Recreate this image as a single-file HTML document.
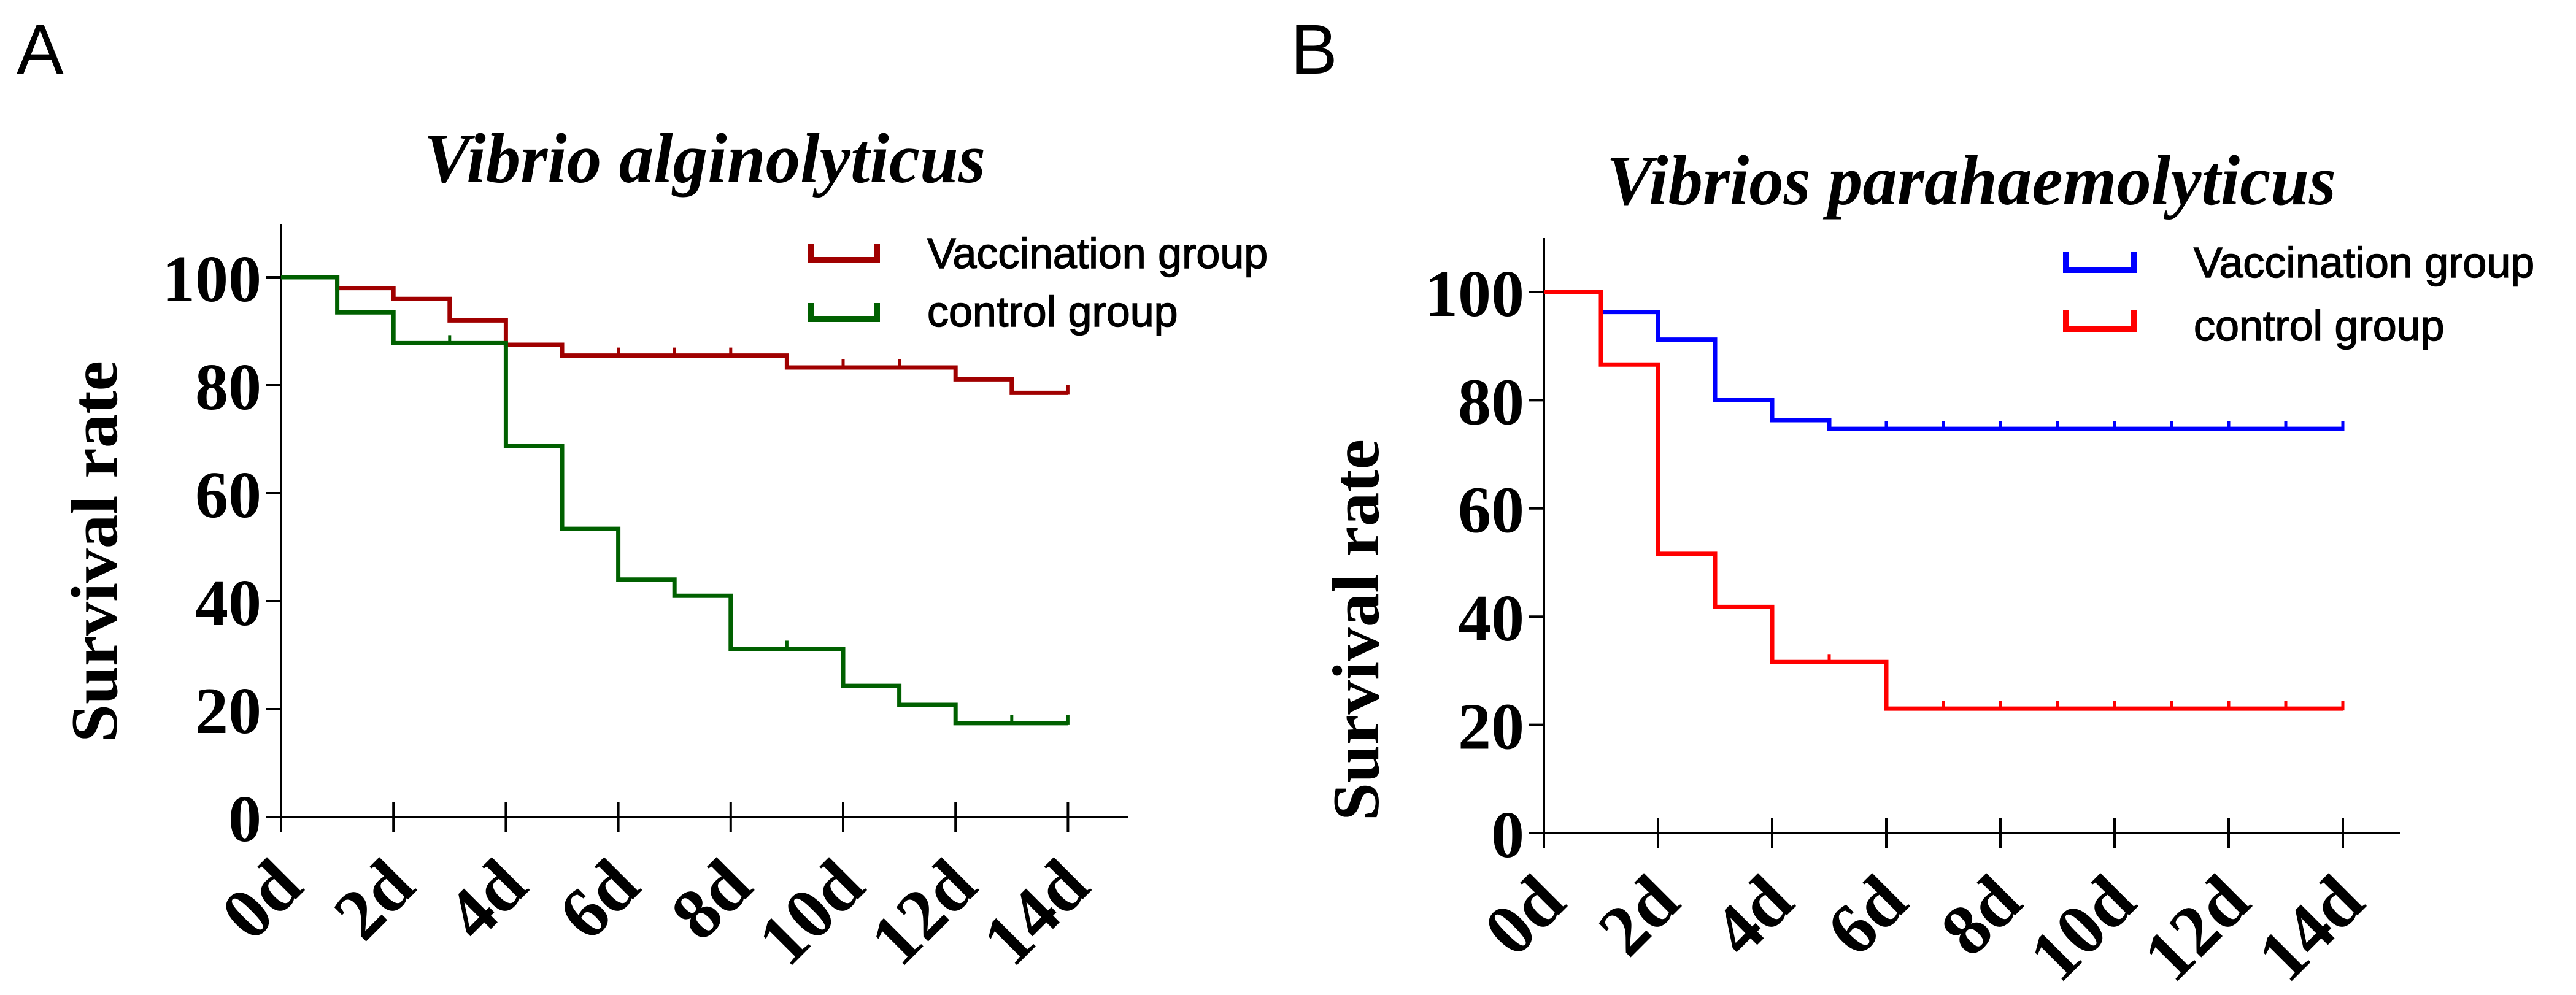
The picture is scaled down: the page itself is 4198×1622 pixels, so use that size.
<!DOCTYPE html>
<html><head><meta charset="utf-8"><style>
html,body{margin:0;padding:0;background:#fff;}
svg{display:block;}
.tk{font-family:"Liberation Serif",serif;font-weight:bold;font-size:108px;}
.xl{font-family:"Liberation Serif",serif;font-weight:bold;font-size:118px;}
.tt{font-family:"Liberation Serif",serif;font-weight:bold;font-style:italic;font-size:115px;}
.lg{font-family:"Liberation Sans",sans-serif;font-size:70px;stroke:#000;stroke-width:1.5px;}
</style></head><body>
<svg id="fig" width="4198" height="1622" viewBox="0 0 4198 1622" xmlns="http://www.w3.org/2000/svg">
<text x="27" y="120" font-family="Liberation Sans, sans-serif" font-size="115">A</text>
<text x="2103" y="120" font-family="Liberation Sans, sans-serif" font-size="115">B</text>
<text class="tt" x="691" y="297" textLength="915" lengthAdjust="spacingAndGlyphs">Vibrio alginolyticus</text>
<text class="tt" x="2618" y="333" textLength="1189" lengthAdjust="spacingAndGlyphs">Vibrios parahaemolyticus</text>
<g id="ga"></g>
<g id="gb"></g>
</svg>
<script>
const xTickDays = [0,2,4,6,8,10,12,14];
const xTickLabels = ["0d","2d","4d","6d","8d","10d","12d","14d"];
const yTicks = [0,20,40,60,80,100];
const seriesNames = ["Vaccination group","control group"];
const aVaccination = [100,98,96,92,87.5,85.5,85.5,85.5,85.5,83.3,83.3,83.3,81.1,78.6];
const aControl = [100,93.5,87.8,87.8,68.8,53.4,44,41,31.2,31.2,24.3,20.8,17.4,17.4];
const bVaccination = [100,96.3,91.2,80,76.3,74.7,74.7,74.7,74.7,74.7,74.7,74.7,74.7,74.7];
const bControl = [100,86.6,51.6,41.8,31.6,31.6,23,23,23,23,23,23,23,23];

const NS="http://www.w3.org/2000/svg";
function mk(tag,attrs,parent){const e=document.createElementNS(NS,tag);for(const k in attrs)e.setAttribute(k,attrs[k]);parent.appendChild(e);return e;}

function drawChart(g,cfg){
  const xs=d=>cfg.x0+d*cfg.dx;
  const ys=v=>cfg.y0-v*(cfg.y0-cfg.y100)/100;
  let ax=mk('line',{x1:cfg.x0,y1:cfg.top,x2:cfg.x0,y2:cfg.y0+2,stroke:'#000','stroke-width':4},g);
  
  
  let bx=mk('line',{x1:cfg.x0-25,y1:cfg.y0,x2:cfg.xend,y2:cfg.y0,stroke:'#000','stroke-width':4},g);
  
  
  yTicks.forEach(v=>{
    const y=ys(v);
    if(v>0){const t=mk('line',{x1:cfg.x0-25,y1:y,x2:cfg.x0,y2:y,stroke:'#000','stroke-width':4},g);
    
    }
    const tx=mk('text',{x:cfg.x0-32,y:y,dy:'0.36em','text-anchor':'end',class:'tk'},g);
    tx.textContent=v;
    
    
  });
  xTickDays.forEach((d,i)=>{
    const x=xs(d);
    const t=mk('line',{x1:x,y1:cfg.y0-24,x2:x,y2:cfg.y0+25,stroke:'#000','stroke-width':4},g);
    
    
    const tx=mk('text',{transform:`translate(${x+40},${cfg.y0+118}) rotate(-45)`,'text-anchor':'end',class:'xl'},g);
    tx.textContent=xTickLabels[i];
    
    
  });
  const yt=mk('text',{transform:`translate(${cfg.ytx},${cfg.yty}) rotate(-90)`,'text-anchor':'middle',dy:'0.35em',class:'tk',textLength:622,lengthAdjust:'spacingAndGlyphs'},g);
  yt.textContent='Survival rate';
  
  
  cfg.series.forEach((s,si)=>{
    const vals=s.vals;
    let d=`M${xs(0)},${ys(vals[0])}`;
    for(let k=0;k<vals.length;k++){
      d+=` H${xs(k+1)}`;
      if(k+1<vals.length) d+=` V${ys(vals[k+1])}`;
    }
    const p=mk('path',{d:d,fill:'none',stroke:s.color,'stroke-width':7,'stroke-linejoin':'miter'},g);
    
    
    for(let dd=1;dd<=vals.length;dd++){
      if(dd===vals.length||vals[dd]===vals[dd-1]){
        const v=vals[dd-1];
        const c=mk('line',{x1:xs(dd),y1:ys(v)+3,x2:xs(dd),y2:ys(v)-13,stroke:s.color,'stroke-width':5},g);
        
        
      }
    }
    const L=cfg.legend[si];
    const m=mk('path',{d:`M${L.mx+5},${L.my} V${L.my+L.mh-6} H${L.mx+L.mw-5} V${L.my}`,fill:'none',stroke:s.color,'stroke-width':10},g);
    
    
    const lt=mk('text',{x:L.tx,y:L.ty,class:'lg'},g);
    lt.textContent=seriesNames[si];
    
    
  });
}
drawChart(document.getElementById('ga'),{x0:458,dx:91.6,y0:1332,y100:452,top:365,xend:1838,ytx:152,yty:899,
  series:[{vals:aVaccination,color:'#a00000'},{vals:aControl,color:'#006000'}],
  legend:[{mx:1317,my:398,mw:117,mh:32,tx:1511,ty:437},{mx:1317,my:494,mw:117,mh:32,tx:1511,ty:532}]});
drawChart(document.getElementById('gb'),{x0:2516,dx:93,y0:1358,y100:476,top:388,xend:3911,ytx:2208,yty:1027,
  series:[{vals:bVaccination,color:'#0000ff'},{vals:bControl,color:'#ff0000'}],
  legend:[{mx:3362,my:411,mw:121,mh:35,tx:3575,ty:452},{mx:3362,my:505,mw:121,mh:37,tx:3575,ty:555}]});
</script>
</body></html>
